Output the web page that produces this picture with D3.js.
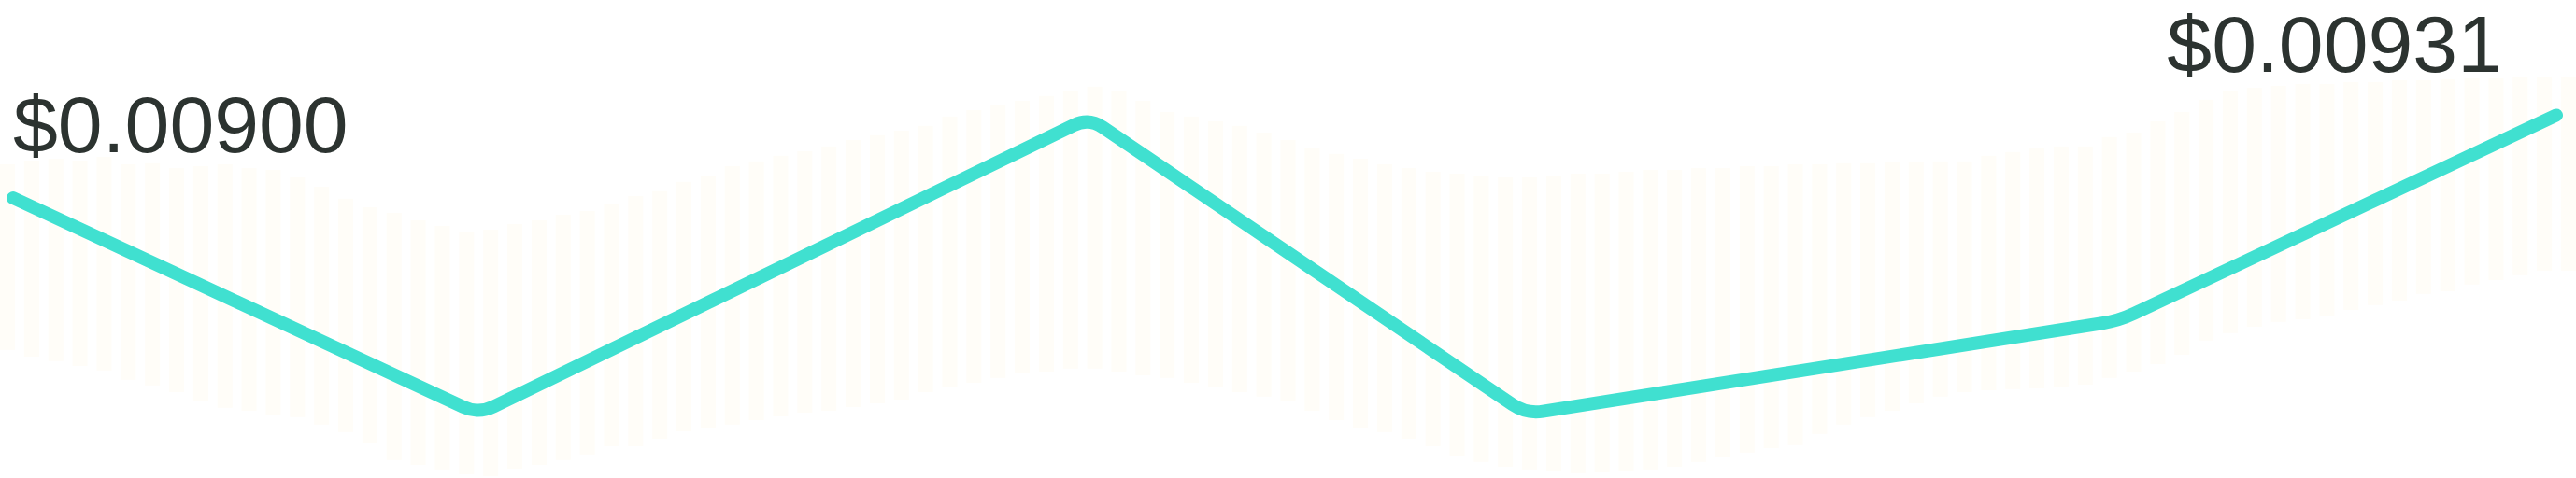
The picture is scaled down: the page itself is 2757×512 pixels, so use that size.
<!DOCTYPE html>
<html>
<head>
<meta charset="utf-8">
<script src="https://cdn.jsdelivr.net/npm/d3@7"></script>
<style>
  html, body { margin: 0; padding: 0; background: #ffffff; }
  svg { display: block; }
</style>
</head>
<body>
<svg id="chart" width="2757" height="512"></svg>
<script>
// ---- data ----
// price line (x = position within period, 0..100)
const linePeriod = [0, 18.3, 42.3, 59.5, 82.8, 100];
const linePrice  = [0.00900, 0.00819, 0.00930, 0.00819, 0.00854, 0.00931];

// faint background range bars (per interval high / low, USD)
const barHigh = [
  0.009126,0.009140,0.009147,0.009140,0.009154,0.009126,0.009130,0.009112,0.009119,0.009126,
  0.009112,0.009105,0.009077,0.009042,0.008997,0.008965,0.008944,0.008916,0.008895,0.008874,
  0.008881,0.008902,0.008916,0.008937,0.008951,0.008979,0.009007,0.009025,0.009060,0.009084,
  0.009119,0.009137,0.009158,0.009175,0.009193,0.009217,0.009235,0.009252,0.009270,0.009305,
  0.009329,0.009347,0.009364,0.009382,0.009399,0.009417,0.009399,0.009364,0.009322,0.009305,
  0.009287,0.009270,0.009245,0.009217,0.009189,0.009165,0.009147,0.009126,0.009112,0.009098,
  0.009091,0.009084,0.009077,0.009077,0.009084,0.009091,0.009091,0.009098,0.009105,0.009105,
  0.009112,0.009112,0.009119,0.009119,0.009126,0.009126,0.009130,0.009130,0.009133,0.009133,
  0.009137,0.009137,0.009158,0.009172,0.009189,0.009193,0.009193,0.009228,0.009245,0.009287,
  0.009322,0.009368,0.009399,0.009413,0.009420,0.009427,0.009427,0.009434,0.009434,0.009441,
  0.009441,0.009445,0.009448,0.009448,0.009452,0.009452,0.009452
];
const barLow = [
  0.008430,0.008405,0.008388,0.008370,0.008353,0.008318,0.008297,0.008272,0.008237,0.008213,
  0.008202,0.008188,0.008178,0.008150,0.008122,0.008080,0.008017,0.007999,0.007982,0.007964,
  0.007957,0.007985,0.007999,0.008017,0.008038,0.008069,0.008069,0.008097,0.008125,0.008139,
  0.008150,0.008167,0.008181,0.008195,0.008202,0.008216,0.008230,0.008244,0.008272,0.008290,
  0.008307,0.008325,0.008342,0.008349,0.008360,0.008360,0.008349,0.008335,0.008325,0.008307,
  0.008290,0.008272,0.008255,0.008237,0.008202,0.008167,0.008139,0.008122,0.008097,0.008069,
  0.008034,0.008010,0.007992,0.007982,0.007975,0.007968,0.007971,0.007975,0.007982,0.007992,
  0.008010,0.008027,0.008045,0.008062,0.008073,0.008115,0.008150,0.008178,0.008202,0.008230,
  0.008255,0.008272,0.008279,0.008283,0.008286,0.008290,0.008300,0.008325,0.008349,0.008377,
  0.008412,0.008465,0.008493,0.008517,0.008535,0.008545,0.008559,0.008580,0.008598,0.008615,
  0.008640,0.008650,0.008675,0.008692,0.008710,0.008727,0.008727
];

const firstLabel = "$0.00900";
const lastLabel  = "$0.00931";

// ---- chart ----
const W = 2757, H = 512;
const svg = d3.select("#chart");

const y = d3.scaleLinear().domain([0.0080, 0.0094]).range([497.7, 97.7]);
const xBand = d3.scaleBand().domain(d3.range(barHigh.length)).range([0, W])
  .paddingInner(0.38).paddingOuter(0);
const x = d3.scaleLinear().domain([0, 100]).range([14, 2736]);

// background bars
svg.append("g").selectAll("rect")
  .data(barHigh.map((h, i) => ({ i, h, l: barLow[i] })))
  .join("rect")
  .attr("x", d => xBand(d.i))
  .attr("width", xBand.bandwidth())
  .attr("y", d => y(d.h))
  .attr("height", d => y(d.l) - y(d.h))
  .attr("fill", "#fffdf8");

// rounded-corner linear curve
function roundedCurve(r) {
  return function(context) {
    let pts = [];
    return {
      areaStart() {}, areaEnd() {},
      lineStart() { pts = []; },
      point(px, py) { pts.push([+px, +py]); },
      lineEnd() {
        const n = pts.length;
        if (!n) return;
        context.moveTo(pts[0][0], pts[0][1]);
        for (let i = 1; i < n - 1; i++) {
          const [x0, y0] = pts[i - 1], [x1, y1] = pts[i], [x2, y2] = pts[i + 1];
          const l1 = Math.hypot(x1 - x0, y1 - y0), l2 = Math.hypot(x2 - x1, y2 - y1);
          const r1 = Math.min(r, l1 / 2), r2 = Math.min(r, l2 / 2);
          context.lineTo(x1 - (x1 - x0) / l1 * r1, y1 - (y1 - y0) / l1 * r1);
          context.quadraticCurveTo(x1, y1, x1 + (x2 - x1) / l2 * r2, y1 + (y2 - y1) / l2 * r2);
        }
        if (n > 1) context.lineTo(pts[n - 1][0], pts[n - 1][1]);
      }
    };
  };
}

const lineData = linePeriod.map((p, i) => ({ p, v: linePrice[i] }));
const line = d3.line().x(d => x(d.p)).y(d => y(d.v)).curve(roundedCurve(18));

svg.append("path")
  .datum(lineData)
  .attr("d", line)
  .attr("fill", "none")
  .attr("stroke", "#40e0d0")
  .attr("stroke-width", 14)
  .attr("stroke-linecap", "round")
  .attr("stroke-linejoin", "round");

// labels
const first = lineData[0], last = lineData[lineData.length - 1];
svg.append("text")
  .attr("x", x(first.p))
  .attr("y", y(first.v) - 49)
  .attr("text-anchor", "start")
  .attr("font-family", "'Liberation Sans', Arial, Helvetica, sans-serif")
  .attr("font-size", 86)
  .attr("fill", "#2c3330")
  .text(firstLabel);

svg.append("text")
  .attr("x", x(last.p) - 58)
  .attr("y", y(last.v) - 46)
  .attr("text-anchor", "end")
  .attr("font-family", "'Liberation Sans', Arial, Helvetica, sans-serif")
  .attr("font-size", 86)
  .attr("fill", "#2c3330")
  .text(lastLabel);
</script>
</body>
</html>
